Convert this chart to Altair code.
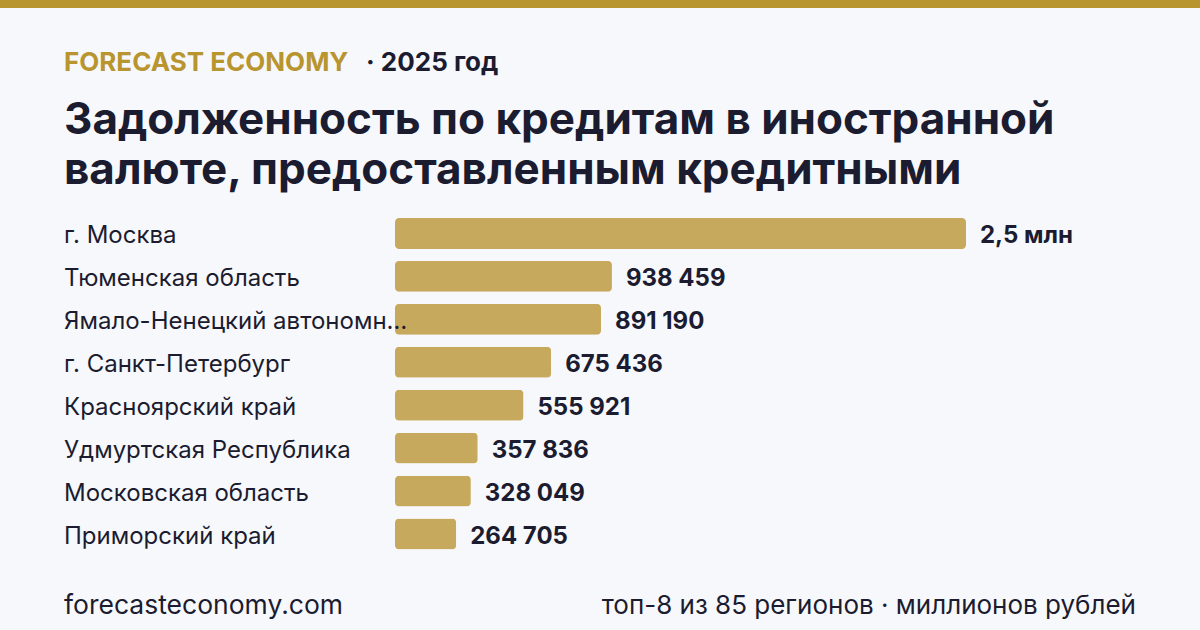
import altair as alt
import pandas as pd

# Top-8 regions: foreign-currency loan debt, million roubles
regions = [
    "г. Москва",
    "Тюменская область",
    "Ямало-Ненецкий автономный округ",
    "г. Санкт-Петербург",
    "Красноярский край",
    "Удмуртская Республика",
    "Московская область",
    "Приморский край",
]
values = [2470000, 938459, 891190, 675436, 555921, 357836, 328049, 264705]


def fmt(v):
    if v >= 1_000_000:
        return f"{v / 1_000_000:.1f}".replace(".", ",") + " млн"
    return f"{v:,}".replace(",", " ")


labels = [fmt(v) for v in values]

brand = "FORECAST ECONOMY"
year_note = "· 2025 год"
title_lines = [
    "Задолженность по кредитам в иностранной",
    "валюте, предоставленным кредитными",
]
site = "forecasteconomy.com"
note = "топ-8 из 85 регионов · миллионов рублей"

FONT = "Inter"
DARK = "#1c1c30"
GOLD = "#b8952e"
BAR = "#c6a95d"
BG = "#f7f8fc"

df = pd.DataFrame({"region": regions, "value": values, "label": labels})
one = pd.DataFrame({"k": [0]})

x_scale = alt.Scale(domain=[0, max(values)], range=[395, 966])
y_scale = alt.Scale(range=[212, 555.5], paddingInner=0.28, paddingOuter=0.14)
y_enc = alt.Y("region:N", sort=regions, scale=y_scale, axis=None)

bars = alt.Chart(df).mark_bar(color=BAR, cornerRadius=4).encode(
    x=alt.X("value:Q", scale=x_scale, axis=None),
    y=y_enc,
)

names = alt.Chart(df).mark_text(
    align="left", baseline="middle", font=FONT, fontSize=24, color=DARK,
    limit=346, dy=3,
).encode(x=alt.value(64), y=y_enc, text="region:N")

vals = alt.Chart(df).mark_text(
    align="left", baseline="middle", font=FONT, fontSize=24, fontWeight="bold",
    color=DARK, dx=14, dy=3,
).encode(x=alt.X("value:Q", scale=x_scale), y=y_enc, text="label:N")


def txt(text, x, y, size, color=DARK, weight="normal", align="left"):
    return alt.Chart(one).mark_text(
        text=text, align=align, baseline="alphabetic", font=FONT,
        fontSize=size, fontWeight=weight, color=color,
    ).encode(x=alt.value(x), y=alt.value(y))


top_strip = alt.Chart(one).mark_rect(color=GOLD).encode(
    x=alt.value(0), x2=alt.value(1200), y=alt.value(0), y2=alt.value(8)
)

chart = alt.layer(
    top_strip,
    txt(brand, 64, 71, 26, GOLD, "bold"),
    txt(year_note, 366, 71, 26, DARK, "bold"),
    txt(title_lines[0], 64, 134, 44, DARK, "bold"),
    txt(title_lines[1], 64, 184, 44, DARK, "bold"),
    bars,
    names,
    vals,
    txt(site, 64, 614, 26.5, DARK),
    txt(note, 1136, 614, 26, DARK, align="right"),
).properties(
    width=1200, height=630, padding=0,
    autosize=alt.AutoSizeParams(type="none"),
    background=BG,
).configure_view(stroke=None)

chart.save("out.html", embed_options={"renderer": "svg", "actions": False})
